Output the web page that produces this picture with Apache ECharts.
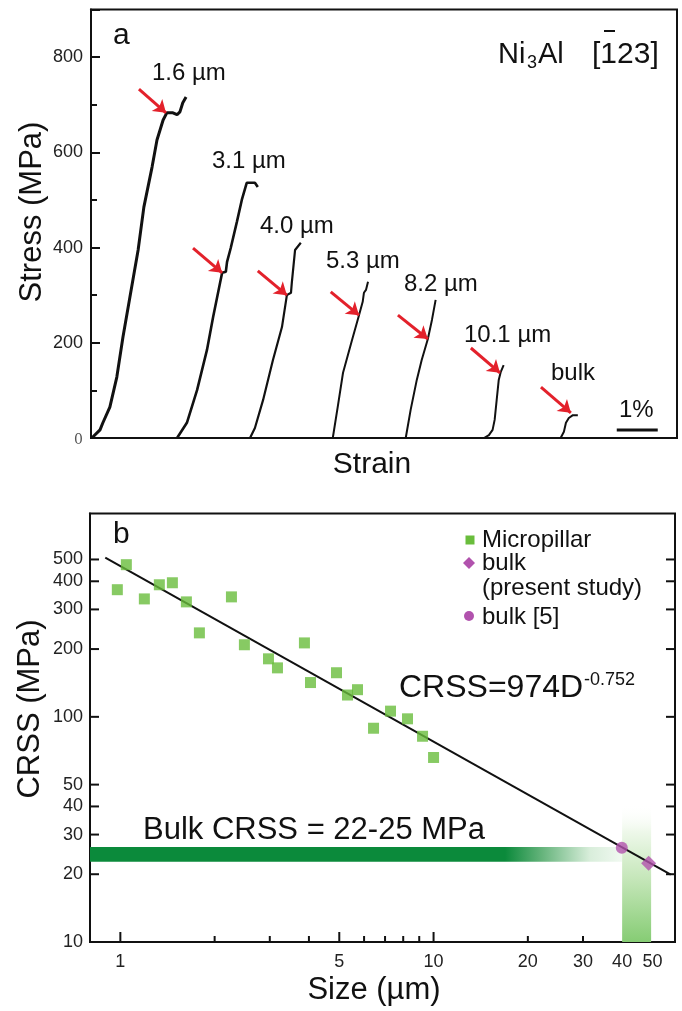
<!DOCTYPE html>
<html><head><meta charset="utf-8">
<script src="https://cdn.jsdelivr.net/npm/echarts@6/dist/echarts.min.js"></script>
<style>html,body{margin:0;padding:0;background:#fff}#c{width:682px;height:1011px}</style>
</head><body><div id="c"></div>
<script>
// ===== Panel a : stress–strain curves (strain in %, stress in MPa) =====
const c16Strain = [0.02,0.22,0.29,0.46,0.63,0.78,0.95,1.15,1.29,1.49,1.61,1.76,1.85,2.00,2.10,2.17,2.24,2.32];
const c16Stress = [0,17,32,65,128,212,296,395,485,569,626,668,683,683,679,685,704,716];
const c31Strain = [2.10,2.34,2.59,2.83,2.98,3.15,3.20,3.29,3.32,3.41,3.44,3.56,3.68,3.80,4.00,4.07];
const c31Stress = [0,32,101,185,254,326,347,349,370,399,403,454,500,536,536,527];
const c40Strain = [3.88,4.00,4.20,4.44,4.66,4.78,4.88,4.90,4.98,5.12];
const c40Stress = [0,21,80,164,233,300,305,326,395,410];
const c53Strain = [5.90,6.02,6.15,6.37,6.54,6.63,6.66,6.71,6.76];
const c53Stress = [0,65,137,206,258,286,305,311,328];
const c82Strain = [7.68,7.80,7.95,8.07,8.22,8.32,8.41];
const c82Stress = [0,59,122,164,208,248,290];
const c101Strain = [9.59,9.71,9.80,9.85,9.90,9.95,10.00,10.07];
const c101Stress = [0,6,17,38,80,122,139,153];
const cBulkStrain = [11.46,11.54,11.59,11.66,11.76,11.88];
const cBulkStress = [0,13,32,42,48,48];
const curveLabels = ['1.6 µm','3.1 µm','4.0 µm','5.3 µm','8.2 µm','10.1 µm','bulk'];
const arrowTailStrain = [1.17,2.49,4.07,5.85,7.49,9.27,10.98];
const arrowTailStress = [733,399,351,307,258,189,107];
const arrowTipStrain  = [1.83,3.20,4.78,6.54,8.22,9.98,11.71];
const arrowTipStress  = [683,347,300,258,208,137,53];
const scaleBarStrain = [12.83,13.83];
const scaleBarStress = [17,17];

// ===== Panel b : CRSS vs size (log-log) =====
const pillarSize = [0.978,1.045,1.193,1.332,1.466,1.625,1.788,2.263,2.489,2.971,3.174,3.870,4.046,4.898,5.312,5.717,6.432,7.288,8.258,9.222,10.0];
const pillarCRSS = [367,474,334,386,394,324,236,341,209,181,165,213,142,157,125,132,89,106,98,82,66];
const bulkPresentSize = [48.6], bulkPresentCRSS = [22.4];
const bulkRefSize = [39.9], bulkRefCRSS = [26.2];
const fitSize = [0.895,57.2], fitCRSS = [509,19.9];
const bulkBandCRSS = [22.7,26.4], bulkBandSize = [0.8,40];
const bulkSizeBand = [40,49.5], bulkSizeBandCRSS = [10,41];
const crssTicks = [10,20,30,40,50,100,200,300,400,500];
const sizeLabelTicks = [1,5,10,20,30,40,50];
const sizeMajorTicks = [1,5,10];
const sizeMinorTicks = [2,3,4,6,7,8,9,20,30];

const SIZE_MIN = 0.8, SIZE_MAX = 59, CRSS_MIN = 10, CRSS_MAX = 800;
const FONT = '"Liberation Sans", Arial, sans-serif';
const INK = '#111';
const RED = '#e3212b';
const GREEN_PT = '#69bd3c';
const PURPLE = '#b152ad';

const chart = echarts.init(document.getElementById('c'), null, {renderer:'canvas'});
const zip = (a,b) => a.map((v,i)=>[v,b[i]]);

function curve(sx, sy, w){
  return {type:'line', xAxisIndex:0, yAxisIndex:0, data: zip(sx,sy), showSymbol:false, symbol:'none',
    lineStyle:{color:INK, width:w}, silent:true, z:3};
}

function crssTickRender(params, api){
  const v = api.value(1);
  const pl = api.coord([SIZE_MIN, v]);
  const pr = api.coord([SIZE_MAX, v]);
  return {type:'group', children:[
    {type:'line', shape:{x1:pl[0], y1:pl[1], x2:pl[0]+9, y2:pl[1]}, style:{stroke:INK, lineWidth:2}},
    {type:'line', shape:{x1:pr[0], y1:pr[1], x2:pr[0]-9, y2:pr[1]}, style:{stroke:INK, lineWidth:2}},
    {type:'text', x:pl[0]-7, y:pl[1], style:{text:String(v), align:'right', verticalAlign:'middle', font:'18px '+FONT, fill:'#222'}}
  ]};
}
function sizeTickRender(params, api){
  const v = api.value(0), len = api.value(2);
  const p = api.coord([v, CRSS_MIN]);
  return {type:'line', shape:{x1:p[0], y1:p[1], x2:p[0], y2:p[1]-len}, style:{stroke:INK, lineWidth:2}};
}
function sizeLabelRender(params, api){
  const v = api.value(0);
  const p = api.coord([v, CRSS_MIN]);
  return {type:'text', x:p[0], y:p[1]+20, style:{text:String(v), align:'center', verticalAlign:'middle', font:'18px '+FONT, fill:'#222'}};
}

const sizeTickData = sizeMajorTicks.map(v=>[v, CRSS_MIN, 10]).concat(sizeMinorTicks.map(v=>[v, CRSS_MIN, 6]));

function txt(text, x, y, size, extra){
  return Object.assign({type:'text', x:x, y:y, silent:true, z:50,
    style:Object.assign({text:text, font:size+'px '+FONT, fill:INK, align:'left', verticalAlign:'middle'}, extra||{})});
}

const arrowData = arrowTailStrain.map((x,i)=>[{coord:[x, arrowTailStress[i]]},{coord:[arrowTipStrain[i], arrowTipStress[i]]}]);

const option = {
  animation:false,
  backgroundColor:'#fff',
  grid:[
    {left:91, top:9.5, width:586, height:428.5, show:true, borderColor:INK, borderWidth:2, backgroundColor:'transparent'},
    {left:90, top:513.5, width:585, height:428.5, show:true, borderColor:INK, borderWidth:2, backgroundColor:'transparent'}
  ],
  xAxis:[
    {type:'value', gridIndex:0, min:0, max:14.3, axisLine:{lineStyle:{color:INK, width:2}}, axisTick:{show:false}, axisLabel:{show:false}, splitLine:{show:false}},
    {type:'log', gridIndex:1, logBase:10, min:SIZE_MIN, max:SIZE_MAX, axisLine:{lineStyle:{color:INK, width:2}}, axisTick:{show:false}, axisLabel:{show:false}, splitLine:{show:false}, minorTick:{show:false}}
  ],
  yAxis:[
    {type:'value', gridIndex:0, min:0, max:900, interval:200, position:'left',
      axisLine:{lineStyle:{color:INK, width:2}}, axisTick:{show:true, inside:true, length:9, lineStyle:{color:INK, width:2}},
      axisLabel:{margin:8, fontSize:18, fontFamily:FONT, color:'#222',
        formatter:v => v===0 ? '{z|0}' : (v<=800 ? String(v) : ''),
        rich:{z:{fontFamily:'"DejaVu Serif", "Liberation Serif", serif', fontSize:14, color:'#555', padding:[4,0,0,0]}}},
      splitLine:{show:false}},
    {type:'value', gridIndex:0, min:0, max:900, interval:100, position:'left',
      axisLine:{show:false}, axisTick:{show:true, inside:true, length:6, lineStyle:{color:INK, width:2}},
      axisLabel:{show:false}, splitLine:{show:false}},
    {type:'log', gridIndex:1, logBase:10, min:CRSS_MIN, max:CRSS_MAX, axisLine:{lineStyle:{color:INK, width:2}}, axisTick:{show:false}, axisLabel:{show:false}, splitLine:{show:false}, minorTick:{show:false}}
  ],
  series:[
    curve(c16Strain, c16Stress, 3),
    curve(c31Strain, c31Stress, 2.6),
    curve(c40Strain, c40Stress, 2.2),
    curve(c53Strain, c53Stress, 2),
    curve(c82Strain, c82Stress, 2),
    curve(c101Strain, c101Stress, 2),
    curve(cBulkStrain, cBulkStress, 2),
    {type:'line', xAxisIndex:0, yAxisIndex:0, data:[], silent:true, z:5,
      markLine:{silent:true, animation:false, symbol:['none','arrow'], symbolSize:12, label:{show:false},
        lineStyle:{color:RED, width:3, type:'solid'}, emphasis:{disabled:true}, data:arrowData}},
    {type:'line', xAxisIndex:0, yAxisIndex:0, data:zip(scaleBarStrain, scaleBarStress), showSymbol:false, symbol:'none',
      lineStyle:{color:INK, width:3}, silent:true},
    // panel b
    {type:'line', xAxisIndex:1, yAxisIndex:2, data:[], silent:true, z:1,
      markArea:{silent:true, animation:false, label:{show:false}, data:[
        [{coord:[bulkBandSize[0], bulkBandCRSS[0]], itemStyle:{color:new echarts.graphic.LinearGradient(0,0,1,0,[
            {offset:0, color:'#0b8a3b'},{offset:0.78, color:'#0b8a3b'},{offset:0.85, color:'#66b47c'},
            {offset:0.94, color:'#d9eedb'},{offset:1, color:'#f1f9f1'}])}},
         {coord:[bulkBandSize[1], bulkBandCRSS[1]]}],
        [{coord:[bulkSizeBand[0], bulkSizeBandCRSS[0]], itemStyle:{color:new echarts.graphic.LinearGradient(0,0,0,1,[
            {offset:0, color:'rgba(255,255,255,0)'},{offset:0.2, color:'#eef8ea'},{offset:0.55, color:'#c4e6b8'},{offset:1, color:'#86cc74'}])}},
         {coord:[bulkSizeBand[1], bulkSizeBandCRSS[1]]}]
      ]}},
    {type:'line', xAxisIndex:1, yAxisIndex:2, data:zip(fitSize, fitCRSS), showSymbol:false, symbol:'none',
      lineStyle:{color:INK, width:2}, silent:true, z:3},
    {type:'scatter', xAxisIndex:1, yAxisIndex:2, name:'Micropillar', data:zip(pillarSize, pillarCRSS), symbol:'rect', symbolSize:11,
      itemStyle:{color:GREEN_PT}, silent:true, z:4},
    {type:'scatter', xAxisIndex:1, yAxisIndex:2, name:'bulk (present study)', data:zip(bulkPresentSize, bulkPresentCRSS), symbol:'diamond', symbolSize:[15,15],
      itemStyle:{color:PURPLE}, silent:true, z:5},
    {type:'scatter', xAxisIndex:1, yAxisIndex:2, name:'bulk [5]', data:zip(bulkRefSize, bulkRefCRSS), symbol:'circle', symbolSize:12,
      itemStyle:{color:PURPLE}, silent:true, z:5},
    {type:'custom', xAxisIndex:1, yAxisIndex:2, clip:false, silent:true, z:2, renderItem:crssTickRender,
      encode:{x:0, y:1}, data:crssTicks.map(v=>[SIZE_MIN, v])},
    {type:'custom', xAxisIndex:1, yAxisIndex:2, clip:false, silent:true, z:2, renderItem:sizeTickRender,
      encode:{x:0, y:1}, data:sizeTickData},
    {type:'custom', xAxisIndex:1, yAxisIndex:2, clip:false, silent:true, z:2, renderItem:sizeLabelRender,
      encode:{x:0, y:1}, data:sizeLabelTicks.map(v=>[v, CRSS_MIN])}
  ],
  graphic:{elements:[
    // panel a texts
    txt('a', 113, 36, 30),
    txt('Ni', 498, 55, 29),
    txt('3', 527, 63, 18),
    txt('Al', 538, 55, 29),
    txt('[123]', 592, 55, 30),
    {type:'line', z:50, silent:true, shape:{x1:604, y1:31, x2:615, y2:31}, style:{stroke:INK, lineWidth:2}},
    txt(curveLabels[0], 152, 73, 24),
    txt(curveLabels[1], 212, 161, 24),
    txt(curveLabels[2], 260, 226, 24),
    txt(curveLabels[3], 326, 261, 24),
    txt(curveLabels[4], 404, 284, 24),
    txt(curveLabels[5], 464, 335, 24),
    txt(curveLabels[6], 551, 373, 24),
    txt('1%', 619, 410, 24),
    txt('Stress (MPa)', 32, 212, 31, {align:'center'}),
    txt('Strain', 372, 465, 30, {align:'center'}),
    // panel b texts
    txt('b', 113, 535, 30),
    txt('CRSS (MPa)', 30, 709, 31, {align:'center'}),
    txt('Size (µm)', 374, 990, 31, {align:'center'}),
    txt('Bulk CRSS = 22-25 MPa', 143, 830, 31),
    txt('CRSS=974D', 399, 688, 32),
    txt('-0.752', 584, 680, 18),
    // legend
    {type:'rect', z:50, silent:true, shape:{x:465.5, y:535.5, width:9, height:9}, style:{fill:GREEN_PT}},
    txt('Micropillar', 482, 540, 24),
    {type:'polygon', z:50, silent:true, shape:{points:[[469,557],[475,563],[469,569],[463,563]]}, style:{fill:PURPLE}},
    txt('bulk', 482, 563, 24),
    txt('(present study)', 482, 588, 24),
    {type:'circle', z:50, silent:true, shape:{cx:469, cy:616, r:5}, style:{fill:PURPLE}},
    txt('bulk [5]', 482, 617, 24)
  ]}
};
// rotate axis titles
option.graphic.elements.forEach(e => {
  if (e.style && (e.style.text === 'Stress (MPa)' || e.style.text === 'CRSS (MPa)')) e.rotation = Math.PI/2;
});
chart.setOption(option);
</script></body></html>
